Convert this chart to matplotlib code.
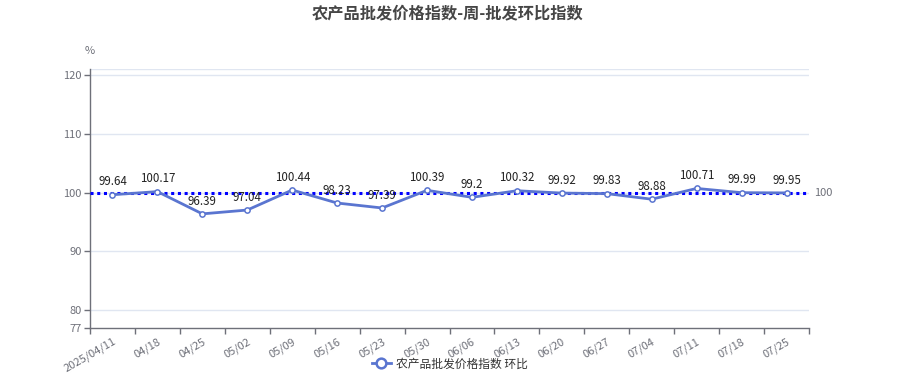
import matplotlib
matplotlib.use("Agg")
import matplotlib.pyplot as plt
from matplotlib.lines import Line2D

plt.rcParams['font.family'] = ['Noto Sans CJK SC', 'DejaVu Sans']

categories = ["2025/04/11", "04/18", "04/25", "05/02", "05/09", "05/16", "05/23", "05/30",
              "06/06", "06/13", "06/20", "06/27", "07/04", "07/11", "07/18", "07/25"]
values = [99.64, 100.17, 96.39, 97.04, 100.44, 98.23, 97.39, 100.39,
          99.2, 100.32, 99.92, 99.83, 98.88, 100.71, 99.99, 99.95]
labels = ["99.64", "100.17", "96.39", "97.04", "100.44", "98.23", "97.39", "100.39",
          "99.2", "100.32", "99.92", "99.83", "98.88", "100.71", "99.99", "99.95"]
ref_value = 100
yticks = [77, 80, 90, 100, 110, 120]
series_name = "农产品批发价格指数 环比"
title = "农产品批发价格指数-周-批发环比指数"

W, H = 899, 388
fig = plt.figure(figsize=(W / 100, H / 100), dpi=100)
ax = fig.add_axes([90 / W, 1 - 328 / H, (809 - 90) / W, (328 - 69) / H])

n = len(categories)
xs = [i + 0.5 for i in range(n)]
ax.set_xlim(0, n)
ax.set_ylim(77, 121)

axis_col = "#6e7079"
grid_col = "#e0e6f1"
line_col = "#5a75d0"

for y in [80, 90, 100, 110, 120, 121]:
    ax.axhline(y, color=grid_col, lw=1, zorder=0)

ax.plot(xs, values, color=line_col, lw=2.0, marker='o', ms=3.8, mfc='white',
        mec=line_col, mew=1.1, zorder=4)
ax.axhline(ref_value, color="#0000ff", lw=2.2, ls=(0, (1, 1.2)), zorder=3)
ax.text(n + 0.12, ref_value, str(ref_value), color=axis_col, fontsize=8,
        va='center', ha='left')

for x, v, lab in zip(xs, values, labels):
    ax.annotate(lab, (x, v), xytext=(0, 4.5), textcoords='offset points',
                ha='center', va='bottom', fontsize=8.3, color='#222222', zorder=5)

for s in ['top', 'right']:
    ax.spines[s].set_visible(False)
for s in ['left', 'bottom']:
    ax.spines[s].set_color(axis_col)
    ax.spines[s].set_linewidth(1)

ax.set_yticks(yticks)
ax.set_yticklabels([str(t) for t in yticks])
ax.tick_params(axis='y', colors=axis_col, labelsize=8, length=4, width=1, pad=2)

ax.set_xticks(range(n + 1))
ax.set_xticklabels([])
ax.set_xticks(xs, minor=True)
ax.set_xticklabels(categories, minor=True, rotation=30, ha='right', rotation_mode='anchor')
ax.tick_params(axis='x', which='major', colors=axis_col, length=4, width=1)
ax.tick_params(axis='x', which='minor', length=0, labelsize=8, labelcolor=axis_col, pad=6)

fig.text(85 / W, 1 - 51 / H, "%", color=axis_col, fontsize=8, ha='left', va='center')
fig.text(448 / W, 1 - 13 / H, title, fontsize=11.7, fontweight='bold', color='#464646',
         ha='center', va='center')

handle = Line2D([], [], color=line_col, lw=2.0, marker='o', ms=7, mfc='white', mec=line_col, mew=1.8)
fig.legend([handle], [series_name], loc='center', bbox_to_anchor=(450 / W, 1 - 364 / H),
           frameon=False, fontsize=8.5, handlelength=1.6, handletextpad=0.5, labelcolor='#333333')

fig.savefig("out.png", dpi=100)
